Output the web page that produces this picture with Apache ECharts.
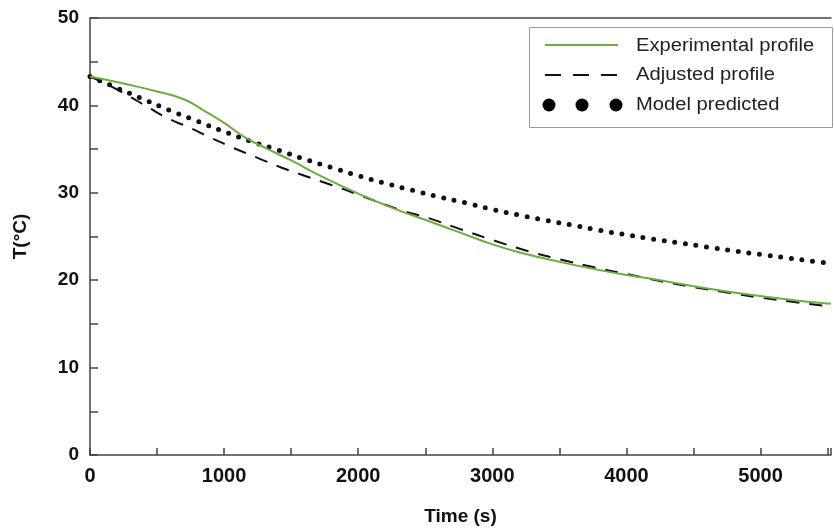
<!DOCTYPE html>
<html>
<head>
<meta charset="utf-8">
<script src="https://cdn.jsdelivr.net/npm/echarts@6/dist/echarts.min.js"></script>
<style>
  html, body { margin: 0; padding: 0; background: #ffffff; }
  #chart { width: 834px; height: 531px; }
</style>
</head>
<body>
<div id="chart"></div>
<script>
// Cooling curves: temperature (°C) against time (s)
const timeExp = [0, 250, 500, 700, 850, 1000, 1150, 1300, 1500, 1750, 2000, 2250, 2500, 2750, 3000, 3250, 3500, 3750, 4000, 4250, 4500, 4750, 5000, 5250, 5525];
const tempExp = [43.3, 42.5, 41.6, 40.7, 39.4, 38.0, 36.4, 35.2, 33.7, 31.7, 29.9, 28.3, 26.9, 25.5, 24.1, 23.0, 22.1, 21.3, 20.6, 20.0, 19.3, 18.7, 18.2, 17.7, 17.3];

const timeAdj = [0, 100, 250, 420, 570, 750, 900, 1075, 1250, 1425, 1610, 1800, 2000, 2300, 2525, 2750, 3000, 3250, 3500, 3750, 4000, 4250, 4500, 4750, 5000, 5250, 5525];
const tempAdj = [43.3, 42.6, 41.4, 39.9, 38.6, 37.4, 36.3, 35.1, 34.0, 32.9, 31.9, 30.9, 29.8, 28.1, 27.1, 25.9, 24.6, 23.4, 22.4, 21.5, 20.7, 19.9, 19.2, 18.6, 18.0, 17.5, 17.0];

const timeMod = [0, 200, 400, 600, 800, 1000, 1200, 1400, 1600, 1800, 2000, 2200, 2400, 2600, 2800, 3000, 3200, 3400, 3600, 3800, 4000, 4200, 4400, 4600, 4800, 5000, 5200, 5400, 5525];
const tempMod = [43.3, 42.0, 40.7, 39.4, 38.2, 37.0, 35.9, 34.9, 33.85, 32.9, 31.95, 31.1, 30.3, 29.55, 28.85, 28.1, 27.45, 26.85, 26.3, 25.7, 25.2, 24.7, 24.25, 23.8, 23.35, 22.95, 22.55, 22.15, 21.9];

const seriesNames = ['Experimental profile', 'Adjusted profile', 'Model predicted'];
const xMax = 5525;

const zip = (xs, ys) => xs.map((x, i) => [x, ys[i]]);

const FONT = '"Liberation Sans", Arial, sans-serif';
const AXIS_COLOR = '#444';
const GREEN = '#6eab41';

const chart = echarts.init(document.getElementById('chart'), null, { renderer: 'canvas' });

const boldLabel = (size) => ({ fontFamily: FONT, fontWeight: 'bold', fontSize: size, color: '#111' });

// legend entries: text is stretched slightly wider than the face's natural width
const legendText = (i, y) => ({
  type: 'text', x: 636, y: y, scaleX: 1.12,
  style: { text: seriesNames[i], font: '18px ' + FONT, fill: '#222', verticalAlign: 'middle' }
});

chart.setOption({
  animation: false,
  backgroundColor: '#ffffff',
  grid: { left: 90, top: 18, right: 0, bottom: 76, containLabel: false },
  xAxis: [
    {
      type: 'value', min: 0, max: xMax, interval: 500,
      position: 'bottom',
      axisLine: { show: true, lineStyle: { color: AXIS_COLOR, width: 1.5 } },
      axisTick: { show: true, inside: true, length: 7, lineStyle: { color: AXIS_COLOR, width: 1.5 } },
      splitLine: { show: false },
      axisLabel: Object.assign(boldLabel(20), {
        margin: 11,
        formatter: v => (v % 1000 === 0 ? String(v) : '')
      }),
      name: 'Time (s)', nameLocation: 'middle', nameGap: 52,
      nameTextStyle: boldLabel(19)
    },
    {
      type: 'value', min: 0, max: xMax, position: 'top',
      axisLine: { show: true, lineStyle: { color: AXIS_COLOR, width: 1.5 } },
      axisTick: { show: false }, axisLabel: { show: false }, splitLine: { show: false }
    }
  ],
  yAxis: {
    type: 'value', min: 0, max: 50, interval: 5,
    axisLine: { show: true, lineStyle: { color: AXIS_COLOR, width: 1.5 } },
    axisTick: { show: true, inside: true, length: 8, lineStyle: { color: AXIS_COLOR, width: 1.5 } },
    splitLine: { show: false },
    axisLabel: Object.assign(boldLabel(19), {
      margin: 11,
      formatter: v => (v % 10 === 0 ? String(v) : '')
    }),
    name: 'T(°C)', nameLocation: 'middle', nameGap: 60,
    nameTextStyle: boldLabel(19)
  },
  series: [
    {
      name: seriesNames[2], type: 'line', smooth: true, showSymbol: false, z: 3,
      data: zip(timeMod, tempMod),
      lineStyle: { color: '#111', width: 5, type: [0, 10.7], cap: 'round' }
    },
    {
      name: seriesNames[1], type: 'line', smooth: true, showSymbol: false, z: 4,
      data: zip(timeAdj, tempAdj),
      lineStyle: { color: '#111', width: 2, type: [13, 10] }
    },
    {
      name: seriesNames[0], type: 'line', smooth: true, showSymbol: false, z: 5,
      data: zip(timeExp, tempExp),
      lineStyle: { color: GREEN, width: 2 }
    }
  ],
  graphic: [
    {
      type: 'group', z: 100,
      children: [
        { type: 'rect', shape: { x: 529.5, y: 27.5, width: 303, height: 100 },
          style: { fill: '#ffffff', stroke: '#9a9a9a', lineWidth: 1 } },
        { type: 'line', shape: { x1: 545, y1: 45, x2: 618, y2: 45 },
          style: { stroke: GREEN, lineWidth: 2 } },
        { type: 'line', shape: { x1: 545, y1: 75, x2: 618, y2: 75 },
          style: { stroke: '#111', lineWidth: 2, lineDash: [16, 12] } },
        { type: 'circle', shape: { cx: 549, cy: 105, r: 6.5 }, style: { fill: '#000' } },
        { type: 'circle', shape: { cx: 582, cy: 105, r: 6.5 }, style: { fill: '#000' } },
        { type: 'circle', shape: { cx: 616, cy: 105, r: 6.5 }, style: { fill: '#000' } },
        legendText(0, 46),
        legendText(1, 75),
        legendText(2, 105)
      ]
    }
  ]
});
</script>
</body>
</html>
